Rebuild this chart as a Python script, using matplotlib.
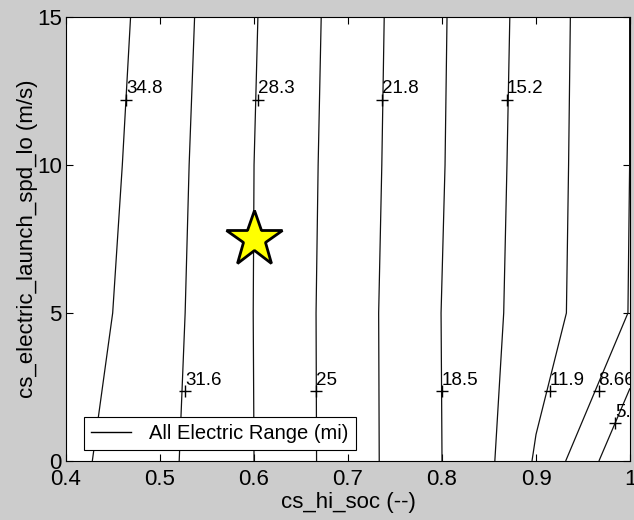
import numpy as np
import matplotlib
matplotlib.use('Agg')
import matplotlib.pyplot as plt
from matplotlib.lines import Line2D
from matplotlib.ticker import FormatStrFormatter

plt.rcParams['font.family'] = ['Liberation Sans', 'DejaVu Sans']

# design grid: high SOC setpoint vs. electric launch speed
hi_soc = np.array([0.4, 0.5, 0.6, 0.7, 0.8, 0.85, 0.9, 1.0])
launch_spd = np.array([0.0, 5.0, 10.0, 15.0])

# all electric range (mi), one row per launch speed
aer = np.array([
    [35.79, 32.41, 28.30, 23.38, 18.48, 15.72, 11.58, 2.33],
    [36.88, 32.78, 28.26, 23.36, 18.43, 15.96, 13.55, 8.55],
    [37.54, 33.04, 28.30, 23.50, 18.64, 16.15, 13.68, 8.64],
    [38.10, 33.36, 28.50, 23.64, 18.74, 16.30, 13.83, 8.64],
])

levels = [5.387, 8.66, 11.933, 15.206, 18.479, 21.752, 25.025, 28.298, 31.571, 34.844]

# where each level gets its "+" and text
label_at = {
    34.844: (0.4638, 12.2),
    28.298: (0.6040, 12.2),
    21.752: (0.7365, 12.2),
    15.206: (0.8690, 12.2),
    31.571: (0.5270, 2.35),
    25.025: (0.6664, 2.35),
    18.479: (0.8000, 2.35),
    11.933: (0.9150, 2.35),
    8.66: (0.9665, 2.35),
    5.387: (0.9840, 1.27),
}

# current design point
design_soc = 0.6
design_spd = 7.5

fig = plt.figure(figsize=(6.34, 5.2), dpi=100, facecolor='#cccccc')
ax = fig.add_axes([66/634, 59/520, 564/634, 444/520])
ax.set_facecolor('white')

cs = ax.contour(hi_soc, launch_spd, aer, levels=levels, colors='#111111', linewidths=0.9)

for lev, (lx, ly) in label_at.items():
    ax.plot(lx, ly, marker='+', color='black', ms=8, mew=1.0, clip_on=True)
    ax.annotate('%.3g' % lev, (lx, ly), xytext=(0, 2), textcoords='offset points',
                ha='left', va='bottom', fontsize=13.5, color='black',
                clip_on=True, annotation_clip=True)

ax.plot(design_soc, design_spd, marker='*', ms=42, mfc='yellow', mec='black', mew=2,
        linestyle='none', zorder=5)

ax.set_xlim(0.4, 1.0)
ax.set_ylim(0, 15)
ax.set_xticks([0.4, 0.5, 0.6, 0.7, 0.8, 0.9, 1.0])
ax.set_yticks([0, 5, 10, 15])
ax.xaxis.set_major_formatter(FormatStrFormatter('%g'))
ax.tick_params(direction='in', top=True, right=True, length=5, width=0.8,
               labelsize=16, colors='black')
ax.tick_params(axis='x', pad=6)
ax.tick_params(axis='y', pad=3)
for sp in ax.spines.values():
    sp.set_linewidth(0.8)

ax.set_xlabel('cs_hi_soc (--)', fontsize=16, labelpad=1)
ax.set_ylabel('cs_electric_launch_spd_lo (m/s)', fontsize=16, labelpad=-1)

handle = Line2D([], [], color='black', lw=1)
leg = ax.legend([handle], ['All Electric Range (mi)'], loc='lower left',
                bbox_to_anchor=(0.032, 0.025), borderaxespad=0, fontsize=14.5,
                fancybox=False, framealpha=1, edgecolor='black', handlelength=2.0,
                borderpad=0.35, handletextpad=0.9, handleheight=0.7)
leg.get_frame().set_linewidth(0.8)

fig.savefig('out.png', dpi=100, facecolor=fig.get_facecolor())
